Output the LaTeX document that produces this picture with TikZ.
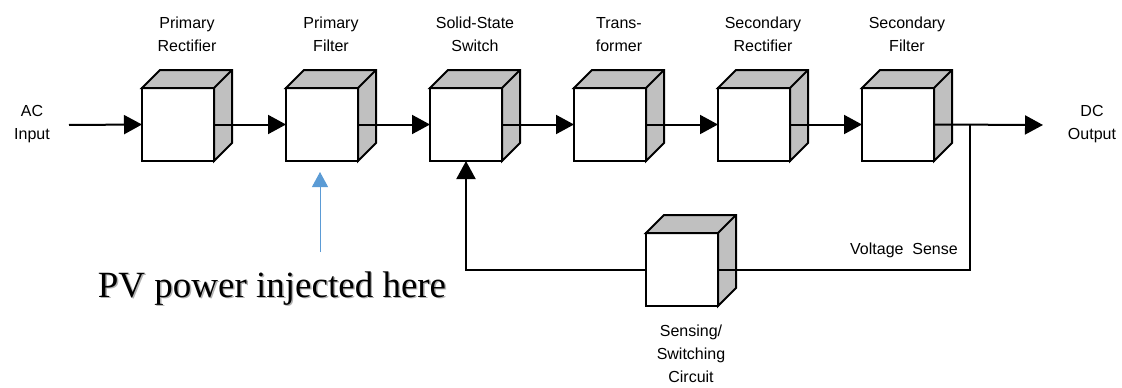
\documentclass[tikz,border=0pt]{standalone}
\usepackage{fontspec}
\setmainfont{Liberation Sans}
\newfontfamily\tnr{Liberation Serif}
\usetikzlibrary{arrows.meta,calc}
\definecolor{facegray}{HTML}{C0C0C0}
\definecolor{pvblue}{HTML}{5B9BD5}
\begin{document}
\begin{tikzpicture}[x=1pt,y=-1pt,
  front/.style={draw, fill=white, line width=2pt, minimum width=72pt, minimum height=73pt, inner sep=0pt, outer sep=0pt, anchor=north west},
  face/.style={fill=facegray, draw, line width=2pt, line join=miter},
  conn/.style={line width=2pt, -{Triangle[length=18pt,width=19pt]}},
  wire/.style={line width=2pt},
  lbl/.style={font=\fontsize{16}{23}\selectfont, align=center, inner sep=0pt},
  pvarrow/.style={pvblue, line width=1pt, -{Triangle[length=15pt,width=16pt]}},
]
\useasboundingbox (0,0) rectangle (1122,388);

% front faces
\node[front] (b1) at (142,88) {};
\node[front] (b2) at (286,88) {};
\node[front] (b3) at (430,88) {};
\node[front] (b4) at (574,88) {};
\node[front] (b5) at (718,88) {};
\node[front] (b6) at (862,88) {};
\node[front] (b7) at (646,233) {};

% top and side faces
\foreach \n in {b1,b2,b3,b4,b5,b6,b7}{
  \filldraw[face] (\n.north west) -- ++(18,-18) -| ($(\n.south east)+(18,-18)$) -- (\n.south east) -- (\n.north east) -- cycle;
  \draw[line width=2pt] (\n.north east) -- ++(18,-18);
}

% labels
\node[lbl] (l1) at (187,34.5) {Primary\\Rectifier};
\node[lbl] (l2) at (331,34.5) {Primary\\Filter};
\node[lbl] (l3) at (475,34.5) {Solid-State\\Switch};
\node[lbl] (l4) at (619,34.5) {Trans-\\former};
\node[lbl] (l5) at (763,34.5) {Secondary\\Rectifier};
\node[lbl] (l6) at (907,34.5) {Secondary\\Filter};
\node[lbl] (l7) at (691,354) {Sensing/\\Switching\\Circuit};
\node[lbl] (ac) at (32,124.5) {AC\\Input};
\node[lbl] (dc) at (1092,124.5) {DC\\Output};
\node[lbl, anchor=east] (vs) at (958,250) {Voltage\ \ Sense};

% connectors
\coordinate (acstart) at (69,125);
\coordinate (dcend) at (1043,125);
\coordinate (jn) at (970,125);
\draw[conn] (acstart) -- (b1.west);
\draw[conn] (b1.east) -- (b2.west);
\draw[conn] (b2.east) -- (b3.west);
\draw[conn] (b3.east) -- (b4.west);
\draw[conn] (b4.east) -- (b5.west);
\draw[conn] (b5.east) -- (b6.west);
\draw[conn] (b6.east) -- (dcend);
\draw[wire] (jn) |- (b7.east);
\draw[conn] (b7.west) -| (b3.south);

% PV annotation
\node[anchor=base, font=\tnr\fontsize{37}{40}\selectfont, text=black!30, inner sep=0pt] (pvs) at (273.5,298.5) {PV power injected here};
\node[anchor=base, font=\tnr\fontsize{37}{40}\selectfont, inner sep=0pt] (pv) at (272,297) {PV power injected here};
\coordinate (pvtail) at (320,252);
\coordinate (pvtip) at (320,172);
\draw[pvarrow] (pvtail) -- (pvtip);
\end{tikzpicture}
\end{document}
